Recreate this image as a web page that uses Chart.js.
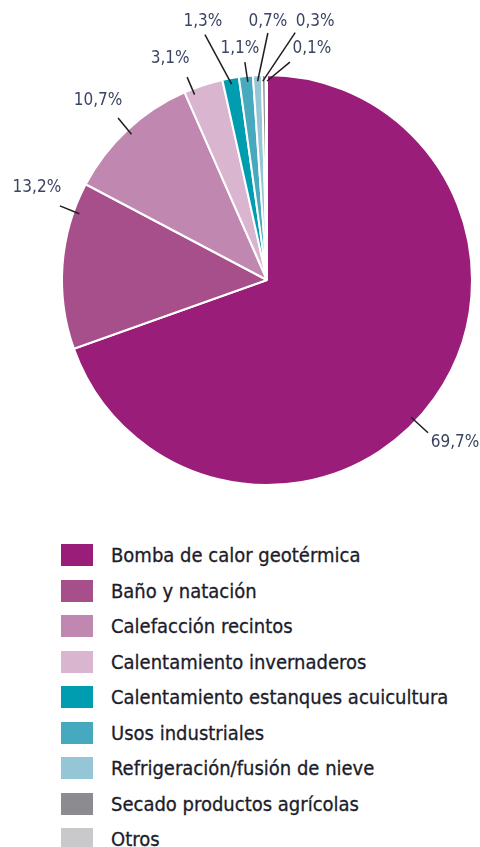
<!DOCTYPE html>
<html>
<head>
<meta charset="utf-8">
<script src="https://cdn.jsdelivr.net/npm/chart.js@4.4.1/dist/chart.umd.min.js"></script>
<style>
  body { margin: 0; background: #fff; width: 480px; height: 847px; overflow: hidden; position: relative; }
  #grafico { position: absolute; left: 0; top: 0; }
  .fila { position: absolute; left: 61px; height: 22px; display: flex; align-items: center; }
  .caja { width: 32px; height: 22px; margin-right: 18px; flex: none; }
  .txt { font-family: "DejaVu Sans Condensed", "DejaVu Sans", sans-serif; font-size: 20px; color: #1c1c2a; white-space: nowrap; -webkit-text-stroke: 0.3px #1c1c2a; }
</style>
</head>
<body>
<canvas id="grafico" width="480" height="520"></canvas>
<div id="leyenda"></div>
<script>
const categorias = [
  "Bomba de calor geotérmica",
  "Baño y natación",
  "Calefacción recintos",
  "Calentamiento invernaderos",
  "Calentamiento estanques acuicultura",
  "Usos industriales",
  "Refrigeración/fusión de nieve",
  "Secado productos agrícolas",
  "Otros"
];
const valores = [69.7, 13.2, 10.7, 3.1, 1.3, 1.1, 0.7, 0.3, 0.1];
const colores = ["#9b1d7a", "#a74f8b", "#c088b0", "#dab5cf", "#009caf", "#46a9bd", "#94c6d5", "#8c8c90", "#c9c9cb"];

// lineas guia: [desplazamiento del angulo medio, angulo exterior, radio exterior, dx texto, dy texto]
const guias = [
  [8.4, 43.5, 222, 27, 10],
  [15.3, 199.7, 220, -23, -18],
  [0, 227.4, 220, -20, -17],
  [-3.2, 248.5, 218, -17, -19],
  [0, 255.8, 253, -2, -13],
  [0.4, 264.2, 219, -5, -14],
  [0, 270.2, 247, 0, -11],
  [-0.3, 276.5, 249, 20, -11],
  [0.2, 276, 219, 22, -14]
];

const etiquetas = {
  id: "etiquetas",
  afterDatasetsDraw(chart) {
    const ctx = chart.ctx;
    const arcos = chart.getDatasetMeta(0).data;
    ctx.save();
    arcos.forEach((arc, i) => {
      const g = guias[i];
      const cx = arc.x, cy = arc.y;
      const mid = (arc.startAngle + arc.endAngle) / 2 + g[0] * Math.PI / 180;
      const ri = arc.outerRadius - 6;
      const x1 = cx + Math.cos(mid) * ri, y1 = cy + Math.sin(mid) * ri;
      const ao = g[1] * Math.PI / 180;
      const x2 = cx + Math.cos(ao) * g[2], y2 = cy + Math.sin(ao) * g[2];
      ctx.strokeStyle = "#1e1e1e";
      ctx.lineWidth = 1.5;
      ctx.beginPath();
      ctx.moveTo(x1, y1);
      ctx.lineTo(x2, y2);
      ctx.stroke();
      ctx.fillStyle = "#3a4562";
      ctx.font = "17px 'DejaVu Sans Condensed', 'DejaVu Sans', sans-serif";
      ctx.textAlign = "center";
      ctx.textBaseline = "middle";
      ctx.fillText(valores[i].toFixed(1).replace(".", ",") + "%", x2 + g[3], y2 + g[4]);
    });
    ctx.restore();
  }
};

new Chart(document.getElementById("grafico").getContext("2d"), {
  type: "pie",
  data: {
    labels: categorias,
    datasets: [{
      data: valores,
      backgroundColor: colores,
      borderColor: "#ffffff",
      borderWidth: 2,
      hoverOffset: 0
    }]
  },
  options: {
    responsive: false,
    animation: false,
    radius: 205,
    layout: { padding: { left: 62, right: 8, top: 75, bottom: 35 } },
    plugins: {
      legend: { display: false },
      tooltip: { enabled: false }
    }
  },
  plugins: [etiquetas]
});

const leyenda = document.getElementById("leyenda");
categorias.forEach((c, i) => {
  const fila = document.createElement("div");
  fila.className = "fila";
  fila.style.top = (544 + i * 35.5) + "px";
  fila.innerHTML = `<div class="caja" style="background:${colores[i]}"></div><span class="txt">${c}</span>`;
  leyenda.appendChild(fila);
});
</script>
</body>
</html>
